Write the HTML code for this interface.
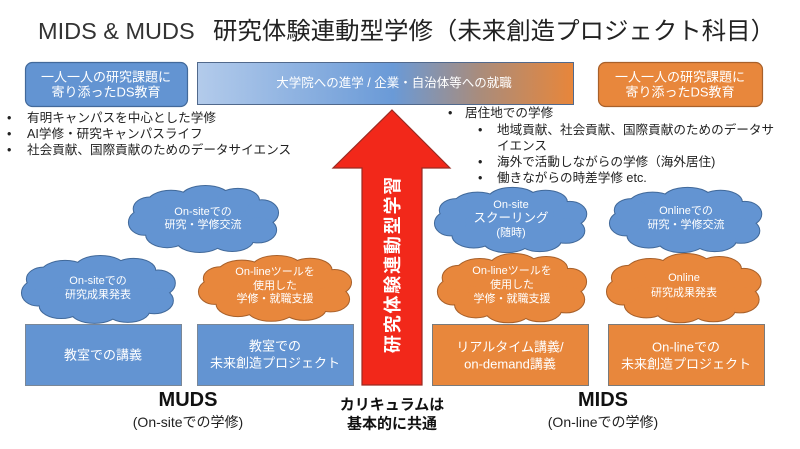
<!DOCTYPE html>
<html><head><meta charset="utf-8">
<style>
html,body{margin:0;padding:0;background:#fff;}
svg{display:block;}
text{font-family:"Liberation Sans","Noto Sans CJK JP",sans-serif;}
</style></head>
<body>
<svg width="800" height="449" viewBox="0 0 800 449" xmlns="http://www.w3.org/2000/svg">
<defs>
<linearGradient id="gr" x1="0" y1="0" x2="1" y2="0">
<stop offset="0" stop-color="#b3cbeb"/>
<stop offset="0.52" stop-color="#6a9ad7"/>
<stop offset="0.75" stop-color="#a98c7c"/>
<stop offset="1" stop-color="#e8863a"/>
</linearGradient>
<g id="cl">
<ellipse vector-effect="non-scaling-stroke" cx="80" cy="36" rx="62" ry="24"/>
<ellipse vector-effect="non-scaling-stroke" cx="46" cy="20" rx="25" ry="14"/>
<ellipse vector-effect="non-scaling-stroke" cx="82" cy="13" rx="25" ry="12"/>
<ellipse vector-effect="non-scaling-stroke" cx="116" cy="16" rx="22" ry="12"/>
<ellipse vector-effect="non-scaling-stroke" cx="141" cy="29" rx="17" ry="13"/>
<ellipse vector-effect="non-scaling-stroke" cx="137" cy="47" rx="19" ry="13"/>
<ellipse vector-effect="non-scaling-stroke" cx="110" cy="57" rx="22" ry="12"/>
<ellipse vector-effect="non-scaling-stroke" cx="76" cy="58" rx="24" ry="12"/>
<ellipse vector-effect="non-scaling-stroke" cx="42" cy="52" rx="22" ry="13"/>
<ellipse vector-effect="non-scaling-stroke" cx="18" cy="39" rx="16" ry="13"/>
<ellipse vector-effect="non-scaling-stroke" cx="24" cy="25" rx="17" ry="12"/>
</g>
</defs>

<!-- Title -->
<text x="38" y="39" font-size="23.5" fill="#333">MIDS &amp; MUDS</text>
<text x="213" y="39" font-size="24" fill="#222" textLength="562" lengthAdjust="spacingAndGlyphs">研究体験連動型学修（未来創造プロジェクト科目）</text>

<!-- top boxes -->
<rect x="25.5" y="62.5" width="162" height="44" rx="7" fill="#6394d2" stroke="#42699a" stroke-width="1.2"/>
<text x="106" y="77" font-size="13" fill="#fff" text-anchor="middle" dominant-baseline="central">一人一人の研究課題に</text>
<text x="106" y="92" font-size="13" fill="#fff" text-anchor="middle" dominant-baseline="central">寄り添ったDS教育</text>

<rect x="197.5" y="62.5" width="376" height="42" fill="url(#gr)" stroke="#51698c" stroke-width="1"/>
<text x="394" y="83" font-size="12.5" fill="#fff" text-anchor="middle" dominant-baseline="central">大学院への進学 / 企業・自治体等への就職</text>

<rect x="598.5" y="62.5" width="164" height="44" rx="7" fill="#e8873c" stroke="#a8602a" stroke-width="1.2"/>
<text x="680" y="77" font-size="13" fill="#fff" text-anchor="middle" dominant-baseline="central">一人一人の研究課題に</text>
<text x="680" y="92" font-size="13" fill="#fff" text-anchor="middle" dominant-baseline="central">寄り添ったDS教育</text>

<!-- left bullets -->
<g font-size="12.6" fill="#222" dominant-baseline="central">
<text x="7" y="118">•</text><text x="27" y="118">有明キャンパスを中心とした学修</text>
<text x="7" y="134">•</text><text x="27" y="134">AI学修・研究キャンパスライフ</text>
<text x="7" y="150">•</text><text x="27" y="150">社会貢献、国際貢献のためのデータサイエンス</text>
</g>

<!-- right bullets -->
<g font-size="12.6" fill="#222" dominant-baseline="central">
<text x="448" y="113">•</text><text x="465" y="113">居住地での学修</text>
<text x="478" y="130">•</text><text x="497" y="130">地域貢献、社会貢献、国際貢献のためのデータサ</text>
<text x="497" y="146">イエンス</text>
<text x="478" y="162">•</text><text x="497" y="162">海外で活動しながらの学修（海外居住)</text>
<text x="478" y="178">•</text><text x="497" y="178">働きながらの時差学修 etc.</text>
</g>

<!-- Arrow -->
<polygon points="392,110 450,168 422,168 422,385 362,385 362,168 333,168" fill="#f2281a" stroke="#9a2a22" stroke-width="1.2"/>
<text transform="translate(393,264) rotate(-90)" font-size="18" font-weight="bold" fill="#fff" text-anchor="middle" dominant-baseline="central" letter-spacing="1.8">研究体験連動型学習</text>

<!-- Clouds -->
<g transform="translate(127,185) scale(0.956,0.957)">
<use href="#cl" fill="#6394d2" stroke="#41699a" stroke-width="2"/><use href="#cl" fill="#6394d2" stroke="none"/></g>
<text x="203" y="212" font-size="11" fill="#fff" text-anchor="middle" dominant-baseline="central">On-siteでの</text>
<text x="203" y="225" font-size="11" fill="#fff" text-anchor="middle" dominant-baseline="central">研究・学修交流</text>

<g transform="translate(20,255) scale(0.98,0.97)">
<use href="#cl" fill="#6394d2" stroke="#41699a" stroke-width="2"/><use href="#cl" fill="#6394d2" stroke="none"/></g>
<text x="98" y="281" font-size="11" fill="#fff" text-anchor="middle" dominant-baseline="central">On-siteでの</text>
<text x="98" y="295" font-size="11" fill="#fff" text-anchor="middle" dominant-baseline="central">研究成果発表</text>

<g transform="translate(197,255) scale(0.975,0.94)">
<use href="#cl" fill="#e8873c" stroke="#a8602a" stroke-width="2"/><use href="#cl" fill="#e8873c" stroke="none"/></g>
<text x="275" y="272" font-size="11" fill="#fff" text-anchor="middle" dominant-baseline="central">On-lineツールを</text>
<text x="275" y="286" font-size="11" fill="#fff" text-anchor="middle" dominant-baseline="central">使用した</text>
<text x="275" y="299" font-size="11" fill="#fff" text-anchor="middle" dominant-baseline="central">学修・就職支援</text>

<g transform="translate(433,187) scale(0.97,0.93)">
<use href="#cl" fill="#6394d2" stroke="#41699a" stroke-width="2"/><use href="#cl" fill="#6394d2" stroke="none"/></g>
<text x="511" y="205" font-size="11" fill="#fff" text-anchor="middle" dominant-baseline="central">On-site</text>
<text x="511" y="218" font-size="12.5" fill="#fff" text-anchor="middle" dominant-baseline="central">スクーリング</text>
<text x="511" y="233" font-size="11" fill="#fff" text-anchor="middle" dominant-baseline="central">(随時)</text>

<g transform="translate(608,187) scale(0.97,0.93)">
<use href="#cl" fill="#6394d2" stroke="#41699a" stroke-width="2"/><use href="#cl" fill="#6394d2" stroke="none"/></g>
<text x="686" y="211" font-size="11" fill="#fff" text-anchor="middle" dominant-baseline="central">Onlineでの</text>
<text x="686" y="225" font-size="11" fill="#fff" text-anchor="middle" dominant-baseline="central">研究・学修交流</text>

<g transform="translate(436,253) scale(0.95,0.99)">
<use href="#cl" fill="#e8873c" stroke="#a8602a" stroke-width="2"/><use href="#cl" fill="#e8873c" stroke="none"/></g>
<text x="512" y="271" font-size="11" fill="#fff" text-anchor="middle" dominant-baseline="central">On-lineツールを</text>
<text x="512" y="285" font-size="11" fill="#fff" text-anchor="middle" dominant-baseline="central">使用した</text>
<text x="512" y="299" font-size="11" fill="#fff" text-anchor="middle" dominant-baseline="central">学修・就職支援</text>

<g transform="translate(605,253) scale(0.985,0.99)">
<use href="#cl" fill="#e8873c" stroke="#a8602a" stroke-width="2"/><use href="#cl" fill="#e8873c" stroke="none"/></g>
<text x="684" y="278" font-size="11" fill="#fff" text-anchor="middle" dominant-baseline="central">Online</text>
<text x="684" y="293" font-size="11" fill="#fff" text-anchor="middle" dominant-baseline="central">研究成果発表</text>

<!-- bottom boxes -->
<rect x="25.5" y="324.5" width="156" height="61" fill="#6394d2" stroke="#7a8797" stroke-width="1"/>
<text x="103" y="355" font-size="13" fill="#fff" text-anchor="middle" dominant-baseline="central">教室での講義</text>

<rect x="197.5" y="324.5" width="156" height="61" fill="#6394d2" stroke="#7a8797" stroke-width="1"/>
<text x="275" y="346" font-size="13" fill="#fff" text-anchor="middle" dominant-baseline="central">教室での</text>
<text x="275" y="363" font-size="13" fill="#fff" text-anchor="middle" dominant-baseline="central">未来創造プロジェクト</text>

<rect x="432.5" y="324.5" width="156" height="61" fill="#e8873c" stroke="#7a7a7a" stroke-width="1"/>
<text x="510" y="347" font-size="13" fill="#fff" text-anchor="middle" dominant-baseline="central">リアルタイム講義/</text>
<text x="510" y="364" font-size="13" fill="#fff" text-anchor="middle" dominant-baseline="central">on-demand講義</text>

<rect x="608.5" y="324.5" width="156" height="61" fill="#e8873c" stroke="#7a7a7a" stroke-width="1"/>
<text x="686" y="347" font-size="13" fill="#fff" text-anchor="middle" dominant-baseline="central">On-lineでの</text>
<text x="686" y="364" font-size="13" fill="#fff" text-anchor="middle" dominant-baseline="central">未来創造プロジェクト</text>

<!-- bottom labels -->
<text x="188" y="400" font-size="20" font-weight="bold" fill="#111" text-anchor="middle" dominant-baseline="central">MUDS</text>
<text x="188" y="422" font-size="14" fill="#222" text-anchor="middle" dominant-baseline="central">(On-siteでの学修)</text>

<text x="392" y="405" font-size="15" font-weight="bold" fill="#111" text-anchor="middle" dominant-baseline="central">カリキュラムは</text>
<text x="392" y="424" font-size="15" font-weight="bold" fill="#111" text-anchor="middle" dominant-baseline="central">基本的に共通</text>

<text x="603" y="400" font-size="20" font-weight="bold" fill="#111" text-anchor="middle" dominant-baseline="central">MIDS</text>
<text x="603" y="422" font-size="14" fill="#222" text-anchor="middle" dominant-baseline="central">(On-lineでの学修)</text>
</svg>
</body></html>
